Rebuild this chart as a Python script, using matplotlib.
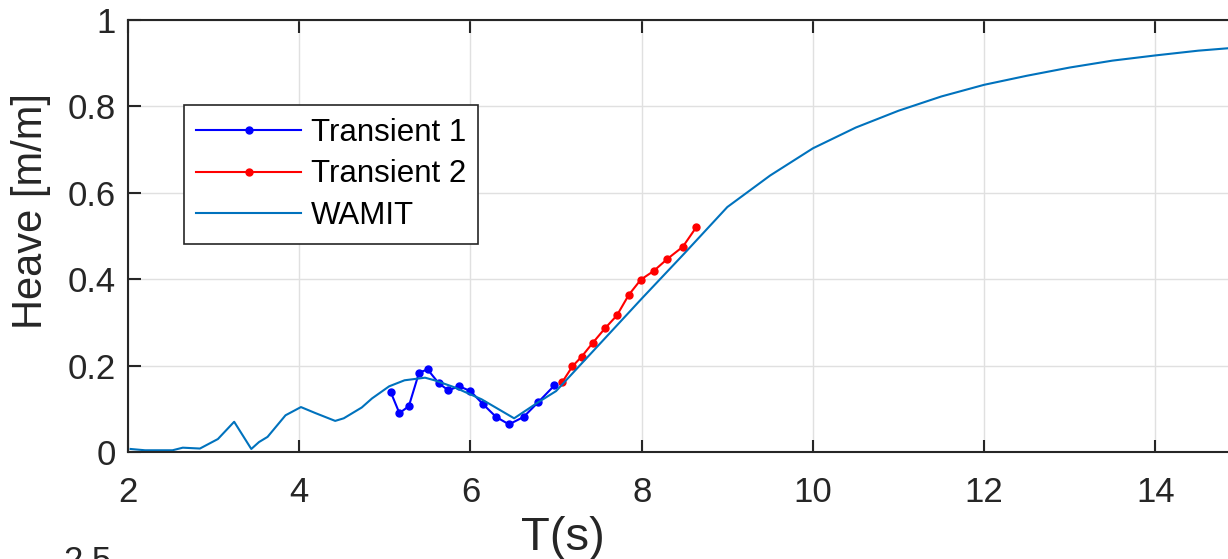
import numpy as np
import matplotlib.pyplot as plt

plt.rcParams['font.family'] = ['Liberation Sans', 'DejaVu Sans']

# WAMIT heave RAO
wamit_T = [2.03, 2.2, 2.52, 2.64, 2.84, 3.05, 3.24, 3.44, 3.53, 3.63, 3.84, 4.02,
           4.19, 4.42, 4.52, 4.73, 4.85, 5.05, 5.23, 5.47, 5.58, 5.81, 6.13, 6.51,
           6.79, 7.0, 7.5, 8.0, 8.5, 9.0, 9.5, 10.0, 10.5, 11.0, 11.5, 12.0, 12.5,
           13.0, 13.5, 14.0, 14.5, 15.0]
wamit_H = [0.007, 0.004, 0.004, 0.01, 0.008, 0.03, 0.07, 0.007, 0.023, 0.035, 0.085, 0.104,
           0.09, 0.072, 0.078, 0.103, 0.124, 0.152, 0.166, 0.172, 0.166, 0.15, 0.122, 0.078,
           0.115, 0.141, 0.248, 0.355, 0.46, 0.567, 0.64, 0.703, 0.751, 0.79, 0.823, 0.85, 0.871,
           0.89, 0.906, 0.918, 0.929, 0.937]

# transient test 1
t1_T = [5.07, 5.17, 5.28, 5.40, 5.50, 5.63, 5.74, 5.87, 6.0, 6.15, 6.30, 6.45, 6.62, 6.79, 6.98]
t1_H = [0.138, 0.09, 0.106, 0.184, 0.191, 0.159, 0.143, 0.152, 0.141, 0.11, 0.081, 0.064,
        0.081, 0.115, 0.154]

# transient test 2
t2_T = [7.07, 7.19, 7.30, 7.43, 7.57, 7.71, 7.85, 7.99, 8.14, 8.30, 8.48, 8.64]
t2_H = [0.161, 0.198, 0.221, 0.253, 0.286, 0.316, 0.364, 0.399, 0.419, 0.447, 0.475, 0.521]

W, H = 1228, 559
fig = plt.figure(figsize=(W/100, H/100), dpi=100)
# axes runs a bit past the right edge of the picture
ax = fig.add_axes([128/W, 1-452/H, (1241-128)/W, (452-20)/H])

ax.plot(t1_T, t1_H, '-', color='b', lw=1.5, marker='o', markersize=5, label='Transient 1')
ax.plot(t2_T, t2_H, '-', color='r', lw=1.5, marker='o', markersize=5, label='Transient 2')
ax.plot(wamit_T, wamit_H, '-', color='#0072BD', lw=1.5, label='WAMIT')

ax.set_xlim(2, 15)
ax.set_ylim(0, 1)
ax.set_xticks([2, 4, 6, 8, 10, 12, 14])
ax.set_yticks([0, 0.2, 0.4, 0.6, 0.8, 1])
ax.set_yticklabels(['0', '0.2', '0.4', '0.6', '0.8', '1'])
ax.grid(True, color='#e0e0e0', lw=1)
ax.set_axisbelow(True)
ax.tick_params(direction='in', length=9, width=1.5, top=True, right=False,
               labelsize=25, colors='#262626')
ax.tick_params(axis='x', pad=17)
ax.tick_params(axis='y', pad=9)
for s in ax.spines.values():
    s.set_linewidth(1.5)
    s.set_color('#262626')
ax.spines['right'].set_visible(False)

ax.set_xlabel('T(s)', fontsize=34, color='#262626', va='top')
ax.xaxis.set_label_coords((563-128)/1113, (452-516)/432)
ax.set_ylabel('Heave [m/m]', fontsize=30, color='#262626', va='center')
ax.yaxis.set_label_coords((31-128)/1113, (452-211)/432)

leg = ax.legend(loc='upper left', bbox_to_anchor=(0.0503, 0.803), borderaxespad=0,
                fontsize=22.5, handlelength=3.35, handletextpad=0.3, borderpad=0.4,
                labelspacing=0.38, fancybox=False, framealpha=1, edgecolor='#262626')
leg.get_frame().set_linewidth(1.2)

# top of the next subplot's tick label, cut off by the crop
fig.text(63/W, 1-545/H, '2.5', fontsize=25, color='#262626', ha='left', va='top')

fig.savefig('out.png', dpi=100)
